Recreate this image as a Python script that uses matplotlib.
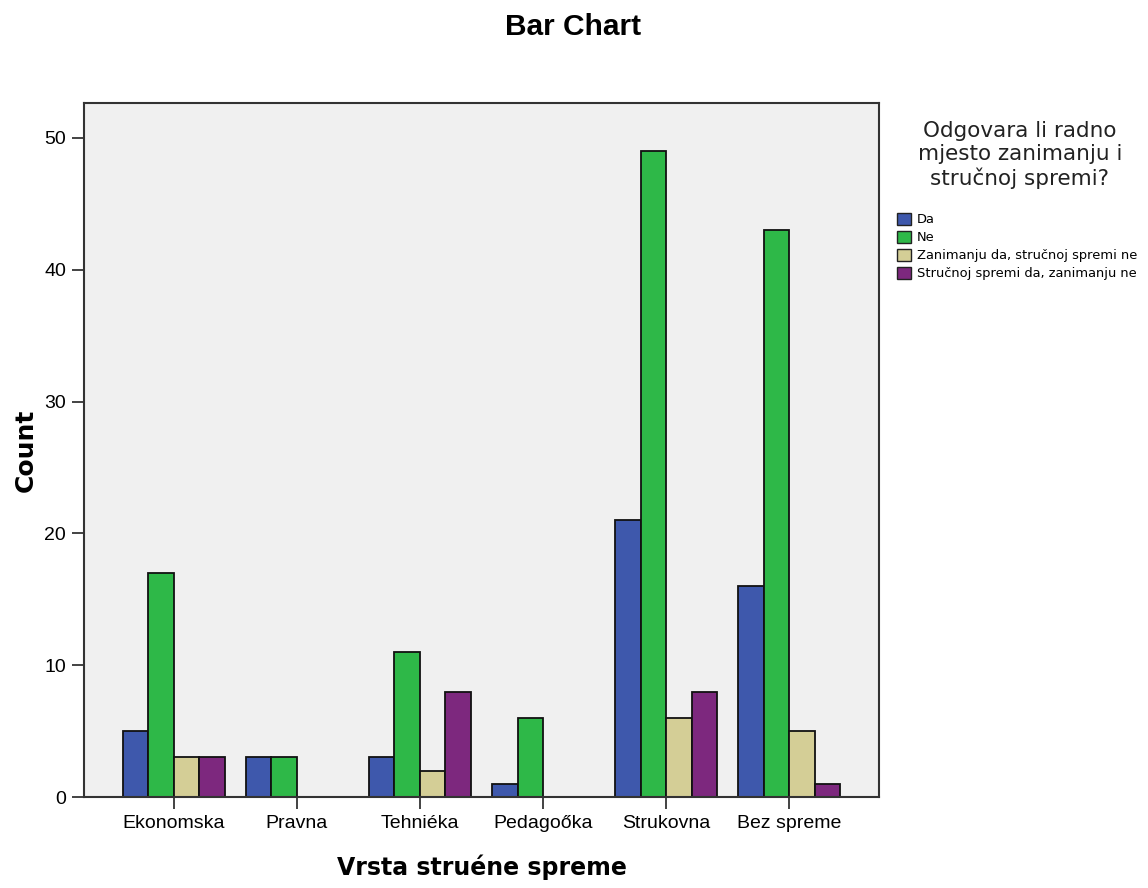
import numpy as np
import matplotlib
matplotlib.use("Agg")
import matplotlib.pyplot as plt
from matplotlib.patches import Patch

categories = ["Ekonomska", "Pravna", "Tehniéka", "Pedagoőka", "Strukovna", "Bez spreme"]
series_names = ["Da", "Ne", "Zanimanju da, stručnoj spremi ne", "Stručnoj spremi da, zanimanju ne"]
da = [5, 3, 3, 1, 21, 16]
ne = [17, 3, 11, 6, 49, 43]
zanimanju_da = [3, 0, 2, 0, 6, 5]
strucnoj_da = [3, 0, 8, 0, 8, 1]
colors = ["#3E58AC", "#2EB848", "#D4CE96", "#7D287E"]

fig = plt.figure(figsize=(11.48, 8.88), dpi=100)
ax = fig.add_axes([84 / 1148, 1 - 797 / 888, (879 - 84) / 1148, (797 - 103) / 888])
ax.set_facecolor("#F0F0F0")

x = np.arange(len(categories))
w = 0.207
for i, vals in enumerate([da, ne, zanimanju_da, strucnoj_da]):
    v = np.array(vals, dtype=float)
    v[v == 0] = np.nan  # SPSS skips empty bars
    ax.bar(x + (i - 1.5) * w, v, width=w, color=colors[i],
           edgecolor="#111111", linewidth=1.3)

ax.set_xlim(-0.73, 5.73)
ax.set_ylim(0, 52.65)
ax.set_yticks([0, 10, 20, 30, 40, 50])
ax.set_xticks(x)
ax.set_xticklabels(categories, fontfamily="Liberation Sans", fontsize=14)
for lbl in ax.get_yticklabels():
    lbl.set_fontfamily("Liberation Sans")
    lbl.set_fontsize(14)
ax.tick_params(direction="out", length=8.8, width=1.2, colors="#222222", labelcolor="black")
ax.tick_params(axis="x", pad=4.5)
ax.tick_params(axis="y", pad=4)
for s in ax.spines.values():
    s.set_linewidth(1.5)
    s.set_color("#333333")

ax.set_ylabel("Count", fontfamily="DejaVu Sans", fontweight="bold", fontsize=18, labelpad=5)
ax.set_xlabel("Vrsta struéne spreme", fontfamily="DejaVu Sans", fontweight="bold", fontsize=17, labelpad=16)
fig.text(573 / 1148, 1 - 27 / 888, "Bar Chart", ha="center", va="center",
         fontfamily="Liberation Sans", fontweight="bold", fontsize=21.5)

fig.text(1020 / 1148, 1 - 155 / 888, "Odgovara li radno\nmjesto zanimanju i\nstručnoj spremi?",
         ha="center", va="center", multialignment="center",
         fontfamily="DejaVu Sans", fontsize=15.5, linespacing=1.17, color="#222222")

handles = [Patch(facecolor=c, edgecolor="#222222", linewidth=1) for c in colors]
fig.legend(handles, series_names, loc="upper left", bbox_to_anchor=(897 / 1148, 1 - 213 / 888),
           frameon=False, prop={"family": "DejaVu Sans", "size": 9.4},
           handlelength=1.1, handleheight=1.0, handletextpad=0.45, labelspacing=0.36,
           borderpad=0, borderaxespad=0)

fig.savefig("out.png", dpi=100)
